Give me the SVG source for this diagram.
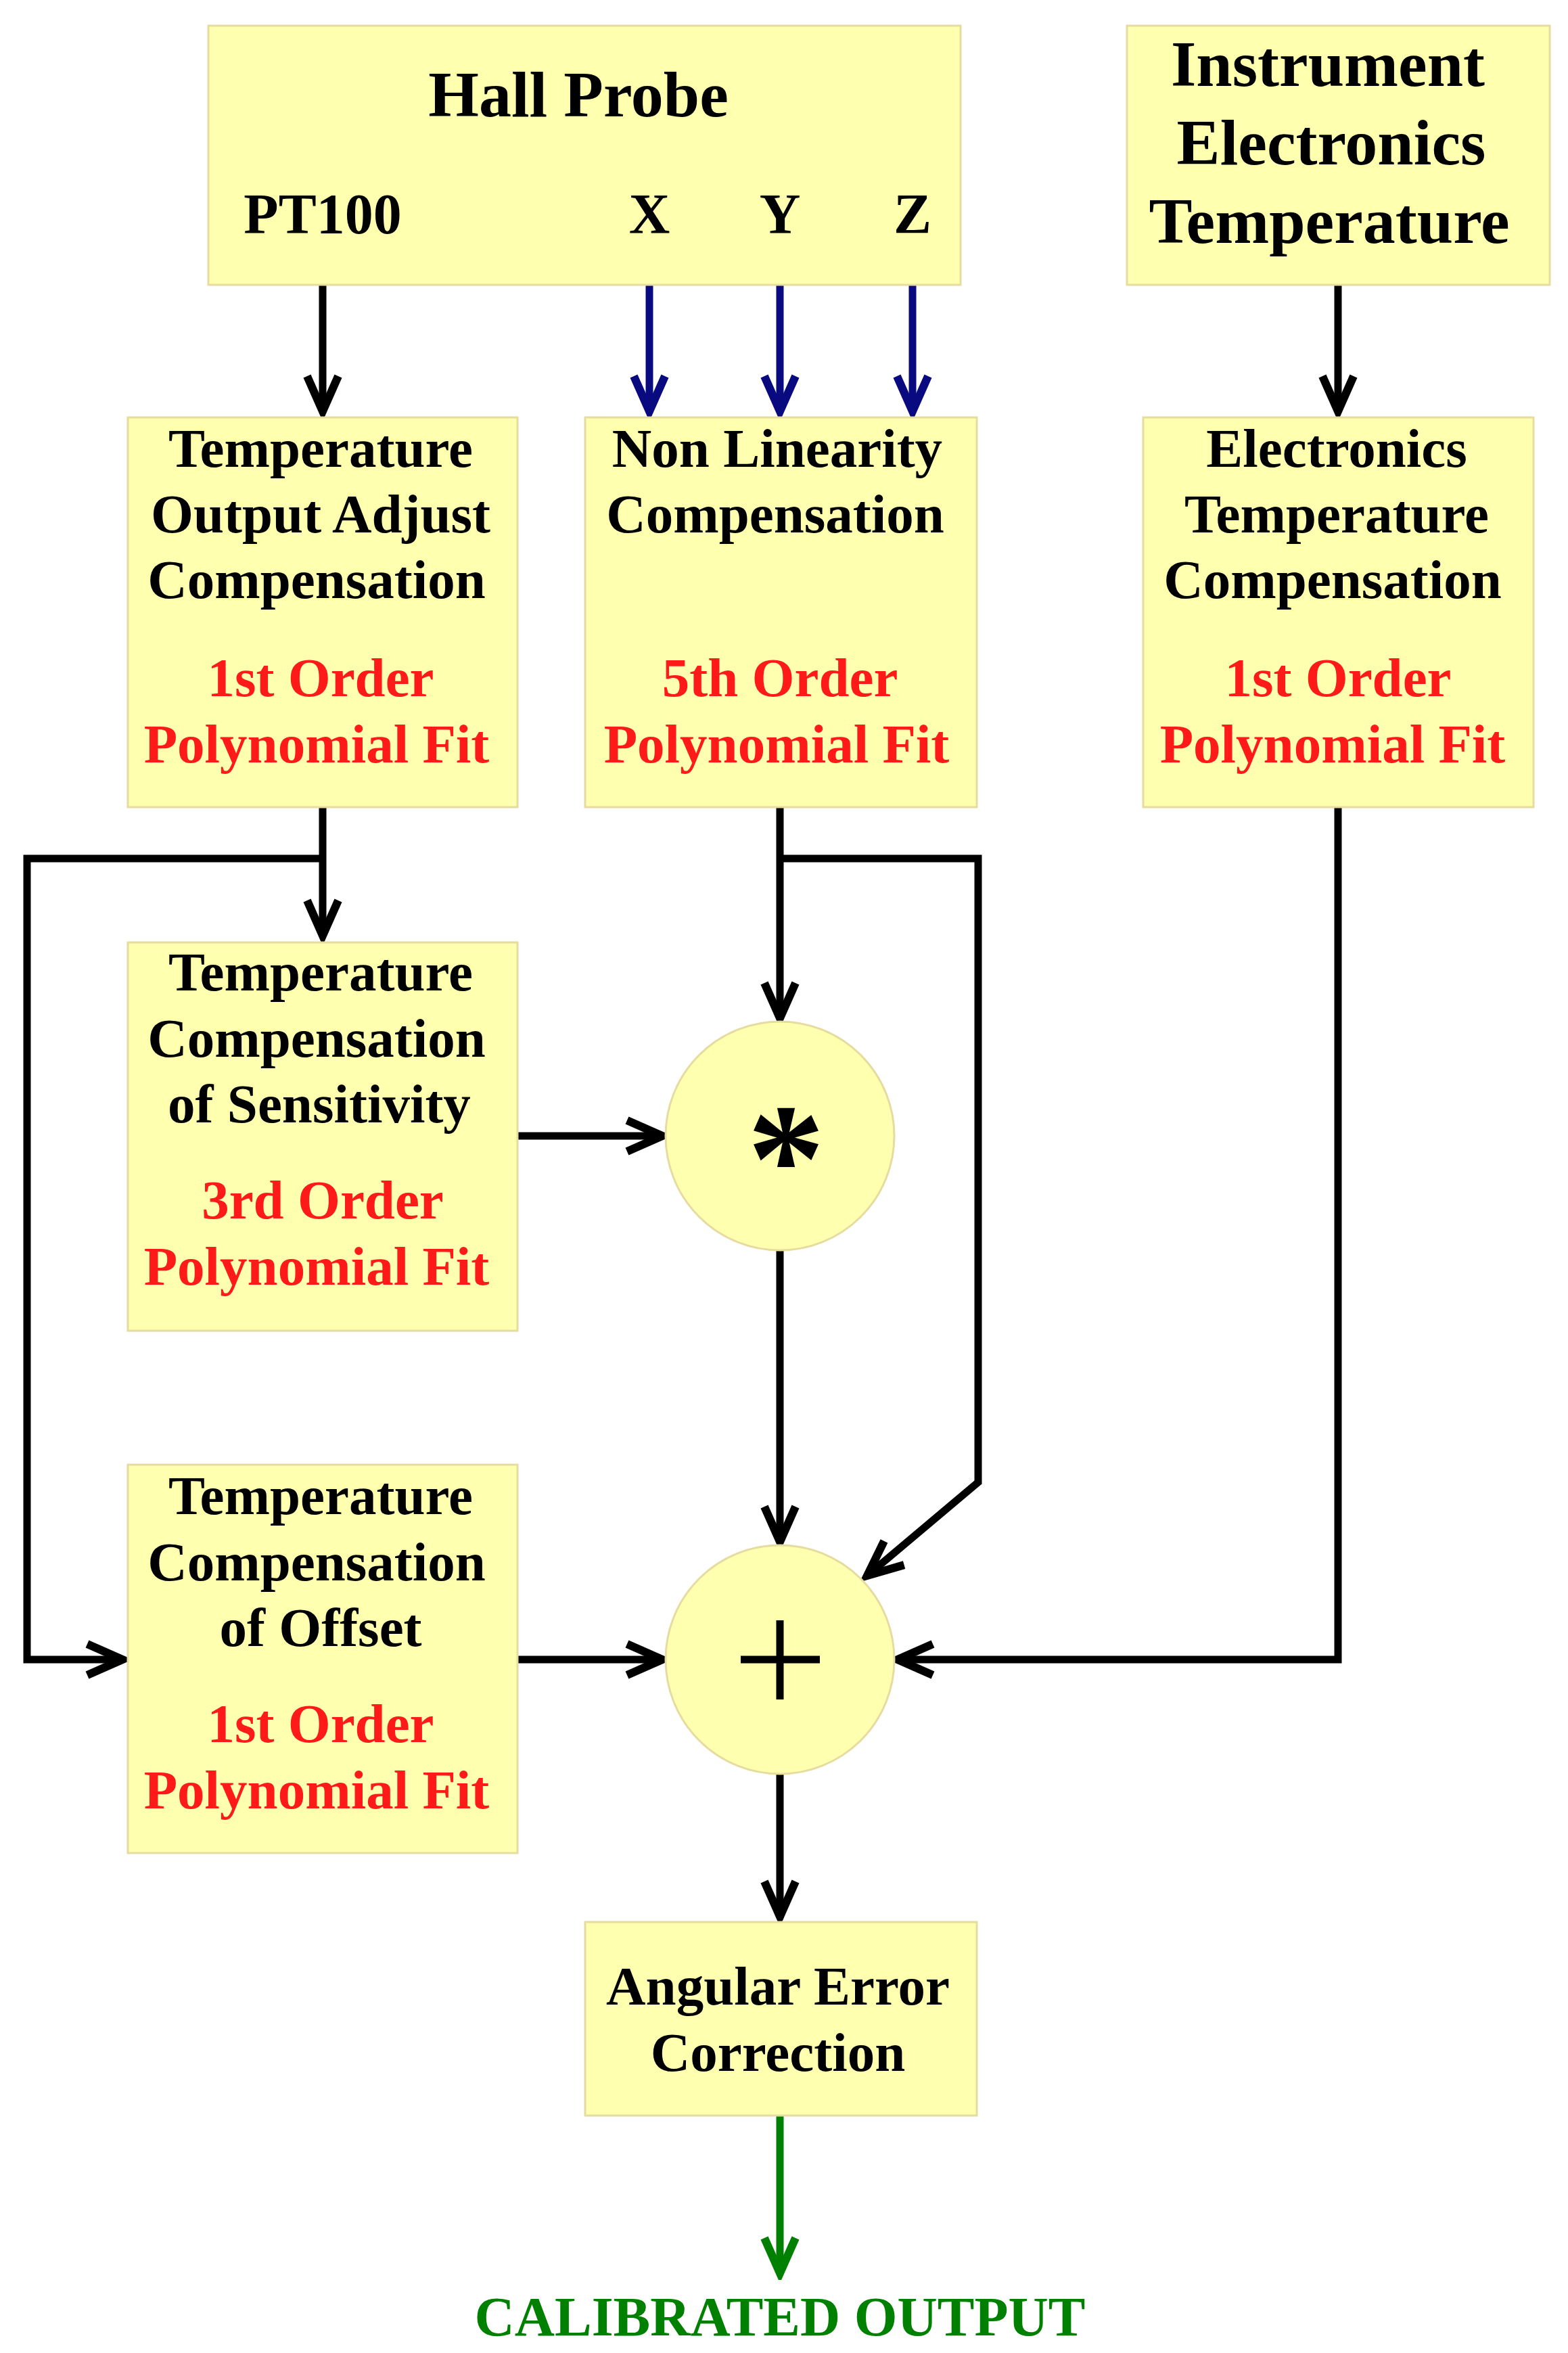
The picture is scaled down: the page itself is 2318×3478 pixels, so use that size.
<svg xmlns="http://www.w3.org/2000/svg" width="2318" height="3478" viewBox="0 0 2318 3478">
<style>
.box{fill:#ffffb0;stroke:#e6dca0;stroke-width:3}
.t{font-family:"Liberation Serif",serif;font-weight:bold;text-anchor:middle;font-size:81px;fill:#000}
.r{fill:#ff1a1a}
.big{font-size:96px}
.ln{fill:none;stroke:#000;stroke-width:11}
.bl{fill:none;stroke:#0a0a80;stroke-width:11}
.gr{fill:none;stroke:#008000;stroke-width:11}
</style>
<defs>
<marker id="ak" markerUnits="userSpaceOnUse" viewBox="-65 -35 75 70" markerWidth="75" markerHeight="70" refX="0" refY="0" orient="auto"><path d="M-52,-23 L0,0 L-52,23" fill="none" stroke="#000" stroke-width="12"/></marker>
<marker id="ab" markerUnits="userSpaceOnUse" viewBox="-65 -35 75 70" markerWidth="75" markerHeight="70" refX="0" refY="0" orient="auto"><path d="M-52,-23 L0,0 L-52,23" fill="none" stroke="#0a0a80" stroke-width="12"/></marker>
<marker id="ag" markerUnits="userSpaceOnUse" viewBox="-65 -35 75 70" markerWidth="75" markerHeight="70" refX="0" refY="0" orient="auto"><path d="M-52,-23 L0,0 L-52,23" fill="none" stroke="#008000" stroke-width="12"/></marker>
</defs>
<rect width="2318" height="3478" fill="#fff"/>
<g id="connectors">
<path class="ln" d="M477,421 V608" marker-end="url(#ak)"/>
<path class="bl" d="M960,421 V608" marker-end="url(#ab)"/>
<path class="bl" d="M1153,421 V608" marker-end="url(#ab)"/>
<path class="bl" d="M1349,421 V608" marker-end="url(#ab)"/>
<path class="ln" d="M1978,421 V608" marker-end="url(#ak)"/>
<path class="ln" d="M477,1193 V1383" marker-end="url(#ak)"/>
<path class="ln" d="M477,1269 H40 V2453 H181" marker-end="url(#ak)"/>
<path class="ln" d="M1153,1193 V1505" marker-end="url(#ak)"/>
<path class="ln" d="M1153,1269 H1446 V2191 L1282,2329" marker-end="url(#ak)"/>
<path class="ln" d="M765,1679 H979" marker-end="url(#ak)"/>
<path class="ln" d="M1153,1848 V2279" marker-end="url(#ak)"/>
<path class="ln" d="M765,2453 H979" marker-end="url(#ak)"/>
<path class="ln" d="M1978,1193 V2453 H1327" marker-end="url(#ak)"/>
<path class="ln" d="M1153,2622 V2833" marker-end="url(#ak)"/>
<path class="gr" d="M1153,3127 V3360" marker-end="url(#ag)"/>
</g>
<g id="hall"><rect class="box" x="308" y="38" width="1112" height="383"/>
<text class="t big" x="855" y="172">Hall Probe</text>
<text class="t" x="477" y="345" style="font-size:84px">PT100</text>
<text class="t" x="960" y="345" style="font-size:84px">X</text>
<text class="t" x="1153" y="345" style="font-size:84px">Y</text>
<text class="t" x="1349" y="345" style="font-size:84px">Z</text></g>
<g id="instr"><rect class="box" x="1666" y="38" width="625" height="383"/>
<text class="t big" x="1963" y="127">Instrument</text>
<text class="t big" x="1968" y="243">Electronics</text>
<text class="t big" x="1965" y="359">Temperature</text></g>
<g id="toa"><rect class="box" x="189" y="617" width="576" height="576"/>
<text class="t" x="474" y="690">Temperature</text>
<text class="t" x="474" y="787">Output Adjust</text>
<text class="t" x="468" y="884">Compensation</text>
<text class="t r" x="474" y="1029">1st Order</text>
<text class="t r" x="468" y="1127">Polynomial Fit</text></g>
<g id="nlc"><rect class="box" x="865" y="617" width="579" height="576"/>
<text class="t" x="1149" y="690">Non Linearity</text>
<text class="t" x="1146" y="787">Compensation</text>
<text class="t r" x="1153" y="1029">5th Order</text>
<text class="t r" x="1148" y="1127">Polynomial Fit</text></g>
<g id="etc"><rect class="box" x="1690" y="617" width="577" height="576"/>
<text class="t" x="1976" y="690">Electronics</text>
<text class="t" x="1976" y="787">Temperature</text>
<text class="t" x="1970" y="884">Compensation</text>
<text class="t r" x="1978" y="1029">1st Order</text>
<text class="t r" x="1970" y="1127">Polynomial Fit</text></g>
<g id="sens"><rect class="box" x="189" y="1393" width="576" height="574"/>
<text class="t" x="474" y="1464">Temperature</text>
<text class="t" x="468" y="1562">Compensation</text>
<text class="t" x="472" y="1659">of Sensitivity</text>
<text class="t r" x="477" y="1801">3rd Order</text>
<text class="t r" x="468" y="1899">Polynomial Fit</text></g>
<g id="offset"><rect class="box" x="189" y="2165" width="576" height="574"/>
<text class="t" x="474" y="2238">Temperature</text>
<text class="t" x="468" y="2336">Compensation</text>
<text class="t" x="474" y="2433">of Offset</text>
<text class="t r" x="474" y="2575">1st Order</text>
<text class="t r" x="468" y="2673">Polynomial Fit</text></g>
<g id="mult"><circle class="box" cx="1153" cy="1679" r="169"/>
<text class="t" x="1162" y="1790" style="font-size:230px">*</text></g>
<g id="sum"><circle class="box" cx="1153" cy="2453" r="169"/>
<path d="M1153,2395 V2512 M1095,2453 H1212" stroke="#000" stroke-width="11"/></g>
<g id="ang"><rect class="box" x="865" y="2841" width="579" height="286"/>
<text class="t" x="1150" y="2963">Angular Error</text>
<text class="t" x="1150" y="3061">Correction</text></g>
<g id="out"><text class="t" x="1153" y="3452" style="font-size:82px;fill:#008000">CALIBRATED OUTPUT</text></g>
</svg>
